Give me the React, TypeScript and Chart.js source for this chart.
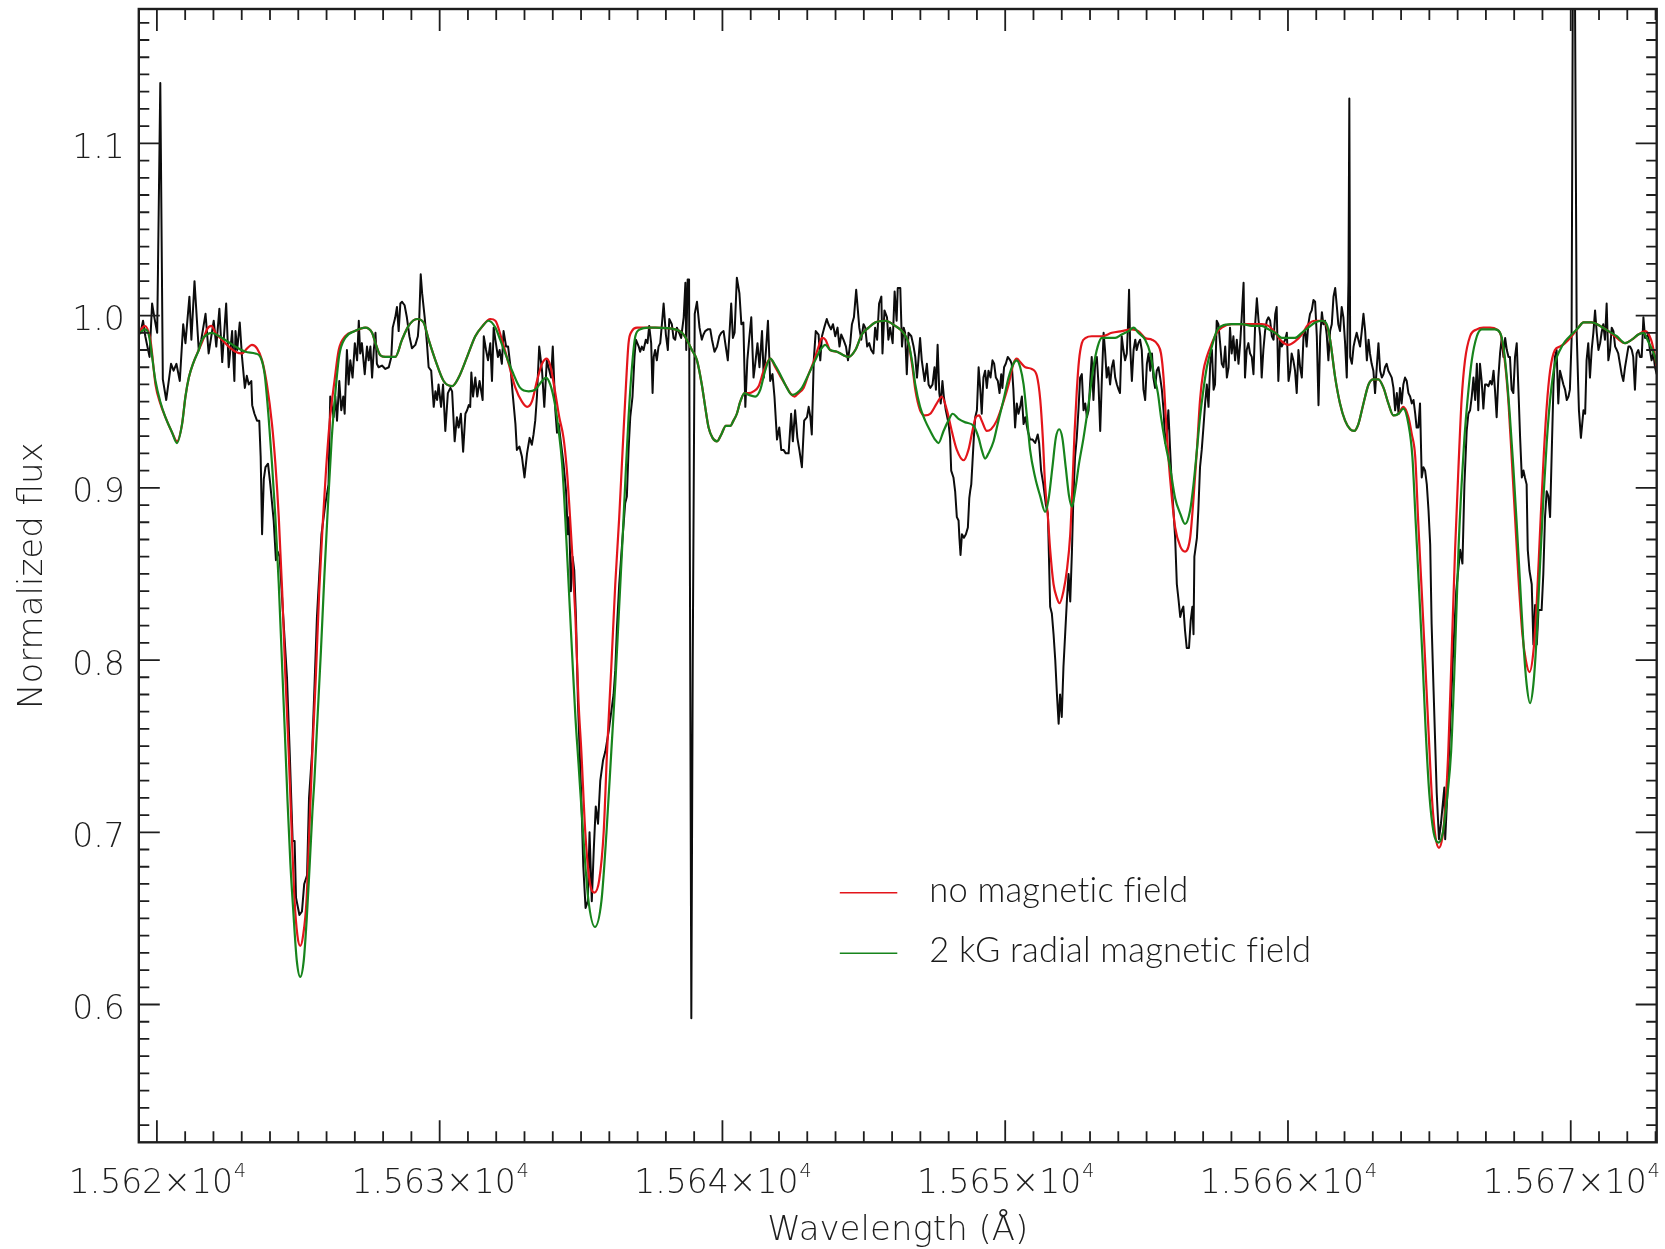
import React, { useEffect, useRef } from "react";
import { Chart, registerables } from "chart.js";

Chart.register(...registerables);

// Axis ranges (wavelength in Å, normalized flux)
const X_MIN = 15619.36;
const X_MAX = 15673.04;
const Y_MIN = 0.52;
const Y_MAX = 1.178;

// Major tick positions and their labels
const xMajorTicks = [15620, 15630, 15640, 15650, 15660, 15670];
const xTickMantissas = ["1.562", "1.563", "1.564", "1.565", "1.566", "1.567"];
const xTickExponent = "4";
const yMajorTicks = [0.6, 0.7, 0.8, 0.9, 1.0, 1.1];
const yTickLabels = ["0.6", "0.7", "0.8", "0.9", "1.0", "1.1"];

const legendLabels = ["no magnetic field", "2 kG radial magnetic field"];

// Observed spectrum [wavelength, flux]
const observed: [number, number][] = [
  [15619.42, 0.990], [15619.51, 0.997], [15619.59, 0.988], [15619.74, 0.976], [15619.83, 1.007],
  [15619.91, 0.999], [15620.01, 0.990], [15620.12, 1.135], [15620.21, 0.963], [15620.33, 0.951],
  [15620.50, 0.972], [15620.59, 0.968], [15620.69, 0.972], [15620.81, 0.962], [15620.93, 0.995],
  [15621.01, 0.984], [15621.15, 1.011], [15621.22, 0.986], [15621.33, 1.020], [15621.48, 0.980],
  [15621.57, 0.986], [15621.72, 1.001], [15621.83, 0.978], [15622.01, 0.997], [15622.10, 0.982],
  [15622.21, 1.004], [15622.31, 0.973], [15622.45, 1.007], [15622.54, 0.970], [15622.66, 0.991],
  [15622.74, 0.962], [15622.78, 0.991], [15622.84, 0.980], [15622.93, 0.996], [15623.01, 0.976],
  [15623.11, 0.958], [15623.18, 0.965], [15623.25, 0.960], [15623.34, 0.962], [15623.37, 0.948],
  [15623.45, 0.943], [15623.54, 0.939], [15623.62, 0.939], [15623.67, 0.918], [15623.72, 0.873],
  [15623.78, 0.905], [15623.84, 0.912], [15623.93, 0.914], [15624.01, 0.902], [15624.13, 0.881],
  [15624.21, 0.858], [15624.27, 0.863], [15624.34, 0.860], [15624.45, 0.830], [15624.60, 0.790],
  [15624.70, 0.745], [15624.80, 0.695], [15624.87, 0.695], [15624.92, 0.662], [15625.04, 0.652],
  [15625.13, 0.654], [15625.21, 0.670], [15625.31, 0.675], [15625.38, 0.720], [15625.49, 0.747],
  [15625.58, 0.788], [15625.66, 0.825], [15625.82, 0.873], [15625.96, 0.891], [15626.07, 0.902],
  [15626.13, 0.953], [15626.25, 0.941], [15626.31, 0.953], [15626.37, 0.939], [15626.45, 0.962],
  [15626.52, 0.945], [15626.59, 0.953], [15626.64, 0.943], [15626.72, 0.980], [15626.78, 0.960],
  [15626.84, 0.974], [15626.92, 0.964], [15627.00, 0.984], [15627.08, 0.974], [15627.14, 0.997],
  [15627.19, 0.978], [15627.25, 0.984], [15627.35, 0.966], [15627.43, 0.982], [15627.49, 0.974],
  [15627.55, 0.982], [15627.61, 0.964], [15627.67, 0.980], [15627.73, 0.990], [15627.78, 0.972],
  [15627.84, 0.970], [15627.96, 0.971], [15628.08, 0.969], [15628.20, 0.970], [15628.29, 0.976],
  [15628.34, 0.993], [15628.43, 0.999], [15628.49, 1.005], [15628.55, 0.991], [15628.61, 1.007],
  [15628.67, 1.008], [15628.76, 1.006], [15628.84, 0.999], [15628.93, 0.988], [15629.02, 0.981],
  [15629.14, 0.983], [15629.23, 0.988], [15629.28, 0.999], [15629.33, 1.024], [15629.38, 1.013],
  [15629.47, 0.999], [15629.55, 0.984], [15629.61, 0.970], [15629.70, 0.968], [15629.79, 0.947],
  [15629.85, 0.956], [15629.91, 0.951], [15629.96, 0.960], [15630.05, 0.947], [15630.12, 0.960],
  [15630.20, 0.933], [15630.29, 0.955], [15630.38, 0.958], [15630.44, 0.956], [15630.53, 0.927],
  [15630.61, 0.941], [15630.67, 0.935], [15630.75, 0.943], [15630.83, 0.921], [15630.91, 0.943],
  [15630.97, 0.945], [15631.03, 0.948], [15631.08, 0.947], [15631.12, 0.967], [15631.18, 0.953],
  [15631.26, 0.964], [15631.33, 0.953], [15631.41, 0.962], [15631.52, 0.951], [15631.56, 0.988],
  [15631.64, 0.980], [15631.71, 0.974], [15631.79, 0.984], [15631.85, 0.962], [15631.91, 0.993],
  [15631.97, 0.986], [15632.06, 0.976], [15632.12, 0.980], [15632.20, 0.972], [15632.26, 0.991],
  [15632.35, 0.982], [15632.42, 0.982], [15632.50, 0.971], [15632.58, 0.955], [15632.68, 0.937],
  [15632.73, 0.922], [15632.82, 0.924], [15632.91, 0.918], [15633.00, 0.906], [15633.09, 0.920],
  [15633.18, 0.929], [15633.26, 0.925], [15633.32, 0.931], [15633.38, 0.939], [15633.44, 0.953],
  [15633.52, 0.982], [15633.62, 0.968], [15633.70, 0.947], [15633.79, 0.974], [15633.85, 0.970],
  [15633.94, 0.964], [15634.00, 0.982], [15634.09, 0.945], [15634.15, 0.932], [15634.21, 0.937],
  [15634.29, 0.926], [15634.38, 0.914], [15634.47, 0.898], [15634.53, 0.873], [15634.58, 0.883],
  [15634.64, 0.840], [15634.70, 0.860], [15634.76, 0.852], [15634.82, 0.825], [15634.89, 0.776],
  [15634.95, 0.747], [15635.00, 0.725], [15635.08, 0.680], [15635.16, 0.656], [15635.24, 0.660],
  [15635.30, 0.700], [15635.38, 0.660], [15635.45, 0.690], [15635.52, 0.715], [15635.60, 0.705],
  [15635.68, 0.730], [15635.78, 0.742], [15635.86, 0.747], [15635.98, 0.759], [15636.15, 0.780],
  [15636.21, 0.794], [15636.27, 0.819], [15636.35, 0.844], [15636.45, 0.867], [15636.56, 0.891],
  [15636.62, 0.895], [15636.68, 0.922], [15636.74, 0.941], [15636.82, 0.953], [15636.89, 0.976],
  [15636.94, 0.986], [15637.04, 0.982], [15637.09, 0.979], [15637.15, 0.982], [15637.21, 0.980],
  [15637.29, 0.986], [15637.35, 0.984], [15637.41, 0.994], [15637.48, 0.984], [15637.53, 0.955],
  [15637.57, 0.976], [15637.62, 0.980], [15637.68, 0.974], [15637.74, 0.982], [15637.80, 0.984],
  [15637.86, 0.995], [15637.92, 1.007], [15638.00, 0.989], [15638.07, 0.980], [15638.12, 0.998],
  [15638.21, 0.995], [15638.27, 0.987], [15638.33, 0.986], [15638.39, 0.993], [15638.47, 0.990],
  [15638.54, 0.987], [15638.63, 0.999], [15638.69, 1.019], [15638.72, 0.980], [15638.77, 1.021],
  [15638.82, 1.021], [15638.86, 0.800], [15638.90, 0.592], [15638.95, 0.800], [15639.02, 1.001],
  [15639.10, 1.008], [15639.19, 0.993], [15639.27, 0.986], [15639.33, 0.989], [15639.39, 0.991],
  [15639.48, 0.992], [15639.57, 0.992], [15639.63, 0.986], [15639.72, 0.979], [15639.81, 0.982],
  [15639.89, 0.988], [15639.96, 0.990], [15640.04, 0.991], [15640.10, 0.984], [15640.19, 0.974],
  [15640.24, 0.987], [15640.31, 1.007], [15640.37, 0.987], [15640.43, 0.990], [15640.51, 1.022],
  [15640.60, 1.013], [15640.67, 0.995], [15640.74, 0.996], [15640.81, 0.947], [15640.88, 0.974],
  [15640.95, 0.987], [15641.02, 0.999], [15641.10, 0.964], [15641.16, 0.972], [15641.24, 0.984],
  [15641.31, 0.970], [15641.40, 0.991], [15641.46, 0.964], [15641.54, 0.980], [15641.61, 0.997],
  [15641.69, 0.962], [15641.77, 0.966], [15641.84, 0.953], [15641.93, 0.928], [15642.01, 0.935],
  [15642.08, 0.922], [15642.16, 0.922], [15642.24, 0.920], [15642.34, 0.920], [15642.43, 0.943],
  [15642.49, 0.927], [15642.57, 0.945], [15642.65, 0.929], [15642.72, 0.922], [15642.81, 0.912],
  [15642.89, 0.939], [15642.99, 0.941], [15643.05, 0.947], [15643.11, 0.941], [15643.16, 0.931],
  [15643.23, 0.974], [15643.30, 0.991], [15643.40, 0.989], [15643.46, 0.974], [15643.52, 0.988],
  [15643.60, 0.993], [15643.69, 0.998], [15643.75, 0.995], [15643.84, 0.992], [15643.91, 0.995],
  [15643.99, 0.988], [15644.07, 0.993], [15644.14, 0.982], [15644.20, 0.989], [15644.28, 0.986],
  [15644.37, 0.982], [15644.44, 0.974], [15644.52, 0.984], [15644.58, 0.995], [15644.65, 0.999],
  [15644.73, 1.015], [15644.79, 1.003], [15644.84, 0.993], [15644.91, 0.986], [15644.99, 0.995],
  [15645.05, 0.993], [15645.12, 0.982], [15645.19, 0.984], [15645.26, 0.980], [15645.34, 0.978],
  [15645.40, 0.993], [15645.47, 0.986], [15645.54, 1.007], [15645.62, 1.011], [15645.66, 0.978],
  [15645.73, 1.003], [15645.82, 0.999], [15645.87, 0.986], [15645.93, 0.993], [15646.02, 0.984],
  [15646.09, 1.014], [15646.16, 0.997], [15646.20, 1.016], [15646.29, 1.016], [15646.35, 0.982],
  [15646.41, 0.993], [15646.46, 0.990], [15646.52, 0.966], [15646.58, 0.990], [15646.68, 0.988],
  [15646.76, 0.982], [15646.82, 0.976], [15646.88, 0.964], [15646.93, 0.974], [15646.99, 0.987],
  [15647.05, 0.974], [15647.15, 0.962], [15647.23, 0.972], [15647.29, 0.960], [15647.35, 0.958],
  [15647.43, 0.960], [15647.50, 0.970], [15647.55, 0.957], [15647.61, 0.983], [15647.67, 0.955],
  [15647.72, 0.949], [15647.78, 0.962], [15647.83, 0.953], [15647.90, 0.945], [15648.00, 0.937],
  [15648.05, 0.929], [15648.09, 0.910], [15648.17, 0.906], [15648.23, 0.898], [15648.29, 0.883],
  [15648.35, 0.881], [15648.38, 0.871], [15648.42, 0.861], [15648.47, 0.873], [15648.54, 0.871],
  [15648.61, 0.873], [15648.68, 0.877], [15648.73, 0.894], [15648.76, 0.898], [15648.80, 0.902],
  [15648.84, 0.914], [15648.89, 0.929], [15648.94, 0.941], [15649.00, 0.945], [15649.06, 0.970],
  [15649.12, 0.957], [15649.17, 0.943], [15649.23, 0.964], [15649.29, 0.968], [15649.35, 0.958],
  [15649.41, 0.968], [15649.48, 0.964], [15649.55, 0.974], [15649.61, 0.972], [15649.67, 0.964],
  [15649.74, 0.962], [15649.80, 0.955], [15649.86, 0.966], [15649.90, 0.958], [15649.96, 0.970],
  [15650.02, 0.972], [15650.09, 0.976], [15650.18, 0.974], [15650.23, 0.972], [15650.29, 0.957],
  [15650.35, 0.935], [15650.41, 0.949], [15650.47, 0.943], [15650.53, 0.947], [15650.59, 0.953],
  [15650.65, 0.937], [15650.71, 0.941], [15650.80, 0.933], [15650.88, 0.928], [15650.97, 0.928],
  [15651.06, 0.926], [15651.15, 0.931], [15651.20, 0.926], [15651.27, 0.910], [15651.35, 0.902],
  [15651.44, 0.890], [15651.51, 0.885], [15651.59, 0.831], [15651.65, 0.827], [15651.71, 0.815],
  [15651.77, 0.800], [15651.83, 0.780], [15651.89, 0.763], [15651.94, 0.780], [15652.00, 0.767],
  [15652.06, 0.796], [15652.12, 0.815], [15652.18, 0.834], [15652.24, 0.850], [15652.30, 0.834],
  [15652.36, 0.863], [15652.41, 0.894], [15652.47, 0.918], [15652.53, 0.929], [15652.59, 0.945],
  [15652.65, 0.964], [15652.71, 0.966], [15652.77, 0.945], [15652.83, 0.949], [15652.89, 0.941],
  [15652.95, 0.945], [15653.00, 0.960], [15653.06, 0.976], [15653.12, 0.951], [15653.18, 0.972],
  [15653.24, 0.976], [15653.30, 0.960], [15653.36, 0.933], [15653.42, 0.964], [15653.48, 0.990],
  [15653.53, 0.980], [15653.59, 0.964], [15653.65, 0.970], [15653.71, 0.960], [15653.77, 0.970],
  [15653.83, 0.974], [15653.89, 0.964], [15653.95, 0.960], [15654.01, 0.957], [15654.06, 0.955],
  [15654.12, 0.988], [15654.18, 0.980], [15654.24, 0.974], [15654.30, 0.978], [15654.34, 0.993],
  [15654.38, 1.015], [15654.42, 0.982], [15654.48, 0.962], [15654.54, 0.980], [15654.60, 0.986],
  [15654.65, 0.980], [15654.71, 0.984], [15654.77, 0.986], [15654.83, 0.980], [15654.89, 0.957],
  [15654.95, 0.951], [15655.01, 0.972], [15655.07, 0.978], [15655.13, 0.968], [15655.19, 0.978],
  [15655.24, 0.964], [15655.30, 0.958], [15655.36, 0.968], [15655.42, 0.970], [15655.48, 0.964],
  [15655.54, 0.957], [15655.60, 0.945], [15655.66, 0.926], [15655.71, 0.930], [15655.77, 0.945],
  [15655.83, 0.923], [15655.89, 0.902], [15655.95, 0.887], [15656.01, 0.871], [15656.07, 0.844],
  [15656.13, 0.835], [15656.19, 0.825], [15656.25, 0.829], [15656.30, 0.831], [15656.36, 0.817],
  [15656.42, 0.807], [15656.50, 0.807], [15656.56, 0.823], [15656.62, 0.831], [15656.66, 0.815],
  [15656.69, 0.860], [15656.78, 0.871], [15656.83, 0.887], [15656.89, 0.912], [15656.95, 0.922],
  [15657.01, 0.935], [15657.07, 0.949], [15657.13, 0.960], [15657.19, 0.947], [15657.25, 0.972],
  [15657.31, 0.980], [15657.37, 0.957], [15657.42, 0.960], [15657.48, 0.997], [15657.54, 0.995],
  [15657.60, 0.984], [15657.66, 0.972], [15657.72, 0.970], [15657.78, 0.982], [15657.84, 0.964],
  [15657.90, 0.970], [15657.95, 0.993], [15658.01, 0.978], [15658.07, 0.988], [15658.13, 0.974],
  [15658.19, 0.986], [15658.25, 0.972], [15658.31, 0.984], [15658.37, 1.001], [15658.43, 1.019],
  [15658.48, 0.964], [15658.54, 0.980], [15658.60, 0.984], [15658.66, 0.978], [15658.72, 0.976],
  [15658.78, 0.966], [15658.84, 0.995], [15658.90, 1.010], [15658.96, 0.997], [15659.02, 0.988],
  [15659.07, 0.964], [15659.13, 0.980], [15659.19, 0.991], [15659.25, 0.997], [15659.31, 0.999],
  [15659.37, 0.997], [15659.43, 0.988], [15659.49, 0.986], [15659.55, 1.001], [15659.60, 1.005],
  [15659.66, 0.962], [15659.72, 0.986], [15659.78, 0.982], [15659.84, 0.984], [15659.90, 0.986],
  [15659.96, 0.990], [15660.02, 0.962], [15660.08, 0.968], [15660.13, 0.978], [15660.19, 0.974],
  [15660.25, 0.968], [15660.31, 0.955], [15660.37, 0.980], [15660.43, 0.970], [15660.49, 0.964],
  [15660.55, 0.988], [15660.61, 0.991], [15660.66, 0.982], [15660.72, 0.995], [15660.78, 1.001],
  [15660.84, 1.003], [15660.90, 1.009], [15660.96, 1.008], [15661.02, 0.988], [15661.08, 0.948],
  [15661.14, 0.988], [15661.20, 1.002], [15661.25, 0.995], [15661.31, 0.997], [15661.37, 0.989],
  [15661.43, 0.974], [15661.49, 0.991], [15661.55, 0.995], [15661.61, 1.011], [15661.67, 1.016],
  [15661.73, 1.005], [15661.78, 0.995], [15661.84, 0.991], [15661.90, 1.005], [15661.96, 0.999],
  [15662.02, 0.984], [15662.08, 0.964], [15662.14, 1.020], [15662.17, 1.126], [15662.20, 0.976],
  [15662.26, 0.972], [15662.32, 0.982], [15662.37, 0.986], [15662.43, 0.990], [15662.49, 0.986],
  [15662.55, 0.982], [15662.61, 0.991], [15662.67, 1.001], [15662.73, 0.991], [15662.79, 0.974],
  [15662.85, 0.986], [15662.90, 0.978], [15662.96, 0.972], [15663.02, 0.968], [15663.08, 0.955],
  [15663.14, 0.970], [15663.20, 0.984], [15663.26, 0.968], [15663.32, 0.964], [15663.38, 0.966],
  [15663.43, 0.970], [15663.49, 0.972], [15663.55, 0.968], [15663.61, 0.966], [15663.67, 0.964],
  [15663.73, 0.958], [15663.79, 0.945], [15663.85, 0.955], [15663.91, 0.943], [15663.96, 0.958],
  [15664.02, 0.949], [15664.08, 0.960], [15664.14, 0.964], [15664.20, 0.962], [15664.26, 0.955],
  [15664.32, 0.953], [15664.38, 0.949], [15664.44, 0.951], [15664.50, 0.943], [15664.55, 0.935],
  [15664.61, 0.935], [15664.67, 0.949], [15664.73, 0.906], [15664.79, 0.912], [15664.85, 0.910],
  [15664.91, 0.902], [15664.97, 0.887], [15665.03, 0.867], [15665.08, 0.821], [15665.15, 0.782],
  [15665.26, 0.723], [15665.34, 0.696], [15665.41, 0.705], [15665.53, 0.726], [15665.56, 0.696],
  [15665.63, 0.720], [15665.71, 0.751], [15665.83, 0.800], [15665.95, 0.840], [15666.09, 0.864],
  [15666.17, 0.856], [15666.24, 0.902], [15666.32, 0.933], [15666.38, 0.943], [15666.44, 0.945],
  [15666.50, 0.953], [15666.56, 0.964], [15666.62, 0.951], [15666.68, 0.972], [15666.73, 0.945],
  [15666.79, 0.972], [15666.85, 0.962], [15666.91, 0.946], [15666.97, 0.960], [15667.03, 0.960],
  [15667.09, 0.959], [15667.15, 0.962], [15667.21, 0.960], [15667.27, 0.968], [15667.32, 0.957],
  [15667.38, 0.941], [15667.44, 0.964], [15667.50, 0.978], [15667.56, 0.987], [15667.62, 0.976],
  [15667.68, 0.987], [15667.74, 0.980], [15667.80, 0.976], [15667.85, 0.976], [15667.91, 0.957],
  [15667.97, 0.955], [15668.03, 0.976], [15668.09, 0.984], [15668.15, 0.957], [15668.21, 0.929],
  [15668.27, 0.906], [15668.33, 0.910], [15668.38, 0.906], [15668.44, 0.902], [15668.48, 0.864],
  [15668.54, 0.852], [15668.62, 0.844], [15668.68, 0.809], [15668.74, 0.832], [15668.80, 0.809],
  [15668.86, 0.829], [15668.91, 0.829], [15668.97, 0.829], [15669.03, 0.850], [15669.09, 0.883],
  [15669.15, 0.898], [15669.21, 0.895], [15669.27, 0.883], [15669.33, 0.922], [15669.39, 0.960],
  [15669.44, 0.976], [15669.50, 0.980], [15669.56, 0.949], [15669.62, 0.968], [15669.68, 0.964],
  [15669.74, 0.960], [15669.80, 0.957], [15669.86, 0.951], [15669.92, 0.953], [15669.97, 0.957],
  [15670.03, 0.986], [15670.08, 1.220], [15670.14, 1.220], [15670.21, 0.990], [15670.29, 0.945],
  [15670.36, 0.929], [15670.45, 0.945], [15670.51, 0.943], [15670.56, 0.974], [15670.62, 0.984],
  [15670.68, 0.964], [15670.74, 0.980], [15670.80, 0.990], [15670.86, 1.003], [15670.92, 0.990],
  [15670.98, 0.980], [15671.04, 0.984], [15671.09, 0.990], [15671.15, 0.995], [15671.21, 0.986],
  [15671.27, 1.007], [15671.33, 0.974], [15671.39, 0.980], [15671.45, 0.993], [15671.51, 0.991],
  [15671.57, 0.982], [15671.63, 0.980], [15671.68, 0.978], [15671.74, 0.972], [15671.80, 0.966],
  [15671.86, 0.962], [15671.92, 0.970], [15671.98, 0.976], [15672.04, 0.982], [15672.10, 0.982],
  [15672.16, 0.980], [15672.21, 0.976], [15672.27, 0.957], [15672.33, 0.978], [15672.39, 0.980],
  [15672.45, 0.976], [15672.51, 0.976], [15672.57, 0.999], [15672.63, 0.987], [15672.74, 0.989],
  [15672.80, 0.980], [15672.86, 0.974], [15672.92, 0.978], [15672.98, 0.970], [15673.04, 0.966],
];

// Synthetic spectrum without magnetic field [wavelength, flux]
const noFieldModel: [number, number][] = [
  [15619.36, 0.990], [15619.57, 0.994], [15619.77, 0.986], [15619.95, 0.960], [15620.12, 0.949],
  [15620.30, 0.941], [15620.54, 0.932], [15620.71, 0.927], [15620.89, 0.937], [15621.01, 0.953],
  [15621.13, 0.964], [15621.30, 0.973], [15621.48, 0.980], [15621.66, 0.987], [15621.77, 0.992],
  [15621.93, 0.994], [15622.07, 0.990], [15622.30, 0.986], [15622.54, 0.982], [15622.78, 0.979],
  [15623.01, 0.978], [15623.19, 0.981], [15623.36, 0.983], [15623.54, 0.981], [15623.72, 0.974],
  [15623.89, 0.960], [15624.07, 0.937], [15624.19, 0.914], [15624.31, 0.883], [15624.43, 0.840],
  [15624.54, 0.792], [15624.66, 0.747], [15624.74, 0.712], [15624.87, 0.660], [15624.97, 0.640],
  [15625.07, 0.634], [15625.17, 0.640], [15625.29, 0.660], [15625.40, 0.705], [15625.50, 0.747],
  [15625.62, 0.790], [15625.74, 0.840], [15625.86, 0.878], [15625.98, 0.910], [15626.12, 0.940],
  [15626.28, 0.962], [15626.43, 0.980], [15626.66, 0.988], [15627.00, 0.991], [15627.37, 0.993],
  [15627.61, 0.990], [15627.73, 0.984], [15627.90, 0.977], [15628.08, 0.976], [15628.43, 0.976],
  [15628.67, 0.986], [15628.90, 0.994], [15629.20, 0.998], [15629.43, 0.996], [15629.61, 0.986],
  [15629.85, 0.974], [15630.14, 0.962], [15630.44, 0.959], [15630.67, 0.964], [15630.97, 0.976],
  [15631.26, 0.988], [15631.52, 0.994], [15631.79, 0.998], [15631.97, 0.997], [15632.20, 0.986],
  [15632.44, 0.972], [15632.68, 0.958], [15632.91, 0.950], [15633.09, 0.947], [15633.26, 0.950],
  [15633.44, 0.962], [15633.62, 0.972], [15633.79, 0.975], [15633.91, 0.971], [15634.07, 0.957],
  [15634.23, 0.941], [15634.38, 0.929], [15634.50, 0.910], [15634.58, 0.891], [15634.68, 0.864],
  [15634.80, 0.825], [15634.91, 0.776], [15635.01, 0.747], [15635.15, 0.700], [15635.30, 0.672],
  [15635.47, 0.665], [15635.64, 0.672], [15635.80, 0.700], [15635.92, 0.747], [15636.07, 0.796],
  [15636.21, 0.844], [15636.35, 0.883], [15636.47, 0.922], [15636.59, 0.960], [15636.68, 0.984],
  [15636.80, 0.991], [15636.98, 0.993], [15637.63, 0.993], [15638.33, 0.992], [15638.57, 0.990],
  [15638.74, 0.986], [15638.92, 0.980], [15639.10, 0.974], [15639.27, 0.960], [15639.39, 0.947],
  [15639.51, 0.935], [15639.65, 0.929], [15639.81, 0.927], [15639.96, 0.931], [15640.12, 0.936],
  [15640.28, 0.936], [15640.39, 0.939], [15640.51, 0.943], [15640.63, 0.950], [15640.78, 0.955],
  [15640.92, 0.955], [15641.10, 0.956], [15641.28, 0.959], [15641.46, 0.968], [15641.69, 0.975],
  [15641.87, 0.970], [15642.04, 0.965], [15642.22, 0.960], [15642.40, 0.955], [15642.55, 0.953],
  [15642.69, 0.955], [15642.87, 0.958], [15643.05, 0.966], [15643.22, 0.973], [15643.40, 0.982],
  [15643.52, 0.987], [15643.64, 0.986], [15643.81, 0.980], [15644.05, 0.979], [15644.28, 0.977],
  [15644.46, 0.976], [15644.70, 0.980], [15644.93, 0.989], [15645.17, 0.993], [15645.40, 0.996],
  [15645.76, 0.997], [15646.11, 0.994], [15646.40, 0.990], [15646.58, 0.984], [15646.72, 0.970],
  [15646.82, 0.957], [15646.99, 0.945], [15647.17, 0.942], [15647.35, 0.943], [15647.58, 0.949],
  [15647.76, 0.953], [15647.94, 0.945], [15648.11, 0.933], [15648.29, 0.922], [15648.53, 0.916],
  [15648.70, 0.922], [15648.84, 0.933], [15648.96, 0.941], [15649.08, 0.942], [15649.17, 0.939],
  [15649.35, 0.933], [15649.50, 0.934], [15649.70, 0.939], [15649.88, 0.947], [15650.12, 0.960],
  [15650.29, 0.972], [15650.41, 0.975], [15650.53, 0.973], [15650.71, 0.970], [15650.94, 0.969],
  [15651.12, 0.965], [15651.24, 0.951], [15651.33, 0.929], [15651.41, 0.902], [15651.51, 0.883],
  [15651.59, 0.864], [15651.71, 0.844], [15651.83, 0.836], [15651.92, 0.833], [15652.06, 0.840],
  [15652.18, 0.852], [15652.30, 0.873], [15652.38, 0.902], [15652.45, 0.931], [15652.53, 0.956],
  [15652.61, 0.974], [15652.71, 0.984], [15652.85, 0.987], [15653.06, 0.988], [15653.42, 0.988],
  [15653.77, 0.990], [15654.12, 0.991], [15654.48, 0.992], [15654.71, 0.991], [15654.95, 0.987],
  [15655.19, 0.986], [15655.40, 0.983], [15655.51, 0.978], [15655.60, 0.964], [15655.68, 0.941],
  [15655.77, 0.918], [15655.89, 0.895], [15656.01, 0.877], [15656.19, 0.866], [15656.36, 0.863],
  [15656.54, 0.871], [15656.66, 0.894], [15656.78, 0.922], [15656.89, 0.951], [15657.01, 0.968],
  [15657.13, 0.976], [15657.31, 0.984], [15657.48, 0.990], [15657.66, 0.993], [15658.01, 0.995],
  [15658.37, 0.995], [15658.72, 0.995], [15659.07, 0.995], [15659.31, 0.994], [15659.55, 0.990],
  [15659.78, 0.985], [15660.02, 0.983], [15660.25, 0.985], [15660.49, 0.989], [15660.72, 0.995],
  [15660.96, 0.997], [15661.20, 0.997], [15661.37, 0.994], [15661.49, 0.986], [15661.67, 0.964],
  [15661.84, 0.949], [15662.02, 0.939], [15662.20, 0.934], [15662.34, 0.933], [15662.49, 0.937],
  [15662.67, 0.949], [15662.85, 0.960], [15663.02, 0.963], [15663.20, 0.963], [15663.38, 0.958],
  [15663.55, 0.949], [15663.73, 0.942], [15663.91, 0.943], [15664.08, 0.947], [15664.26, 0.941],
  [15664.38, 0.931], [15664.50, 0.918], [15664.61, 0.879], [15664.73, 0.840], [15664.85, 0.800],
  [15664.97, 0.759], [15665.10, 0.718], [15665.22, 0.697], [15665.34, 0.691], [15665.46, 0.697],
  [15665.57, 0.716], [15665.67, 0.747], [15665.79, 0.805], [15665.91, 0.864], [15666.03, 0.912],
  [15666.14, 0.951], [15666.26, 0.974], [15666.44, 0.988], [15666.68, 0.992], [15666.91, 0.993],
  [15667.15, 0.993], [15667.38, 0.992], [15667.54, 0.988], [15667.68, 0.972], [15667.80, 0.949],
  [15667.91, 0.918], [15668.03, 0.883], [15668.15, 0.848], [15668.29, 0.815], [15668.41, 0.800],
  [15668.54, 0.793], [15668.68, 0.805], [15668.80, 0.834], [15668.91, 0.873], [15669.03, 0.914],
  [15669.15, 0.947], [15669.27, 0.968], [15669.44, 0.980], [15669.62, 0.982], [15669.80, 0.984],
  [15670.03, 0.988], [15670.27, 0.993], [15670.45, 0.996], [15670.74, 0.996], [15671.04, 0.994],
  [15671.33, 0.991], [15671.63, 0.987], [15671.92, 0.984], [15672.16, 0.986], [15672.39, 0.989],
  [15672.63, 0.991], [15672.84, 0.986], [15672.98, 0.976], [15673.04, 0.970],
];

// Synthetic spectrum with a 2 kG radial field [wavelength, flux]
const radialFieldModel: [number, number][] = [
  [15619.36, 0.989], [15619.57, 0.992], [15619.71, 0.989], [15619.95, 0.962], [15620.12, 0.950],
  [15620.30, 0.941], [15620.54, 0.932], [15620.71, 0.926], [15620.89, 0.937], [15621.01, 0.953],
  [15621.13, 0.964], [15621.30, 0.973], [15621.48, 0.980], [15621.60, 0.986], [15621.77, 0.989],
  [15621.93, 0.990], [15622.30, 0.987], [15622.78, 0.982], [15623.13, 0.979], [15623.48, 0.978],
  [15623.66, 0.976], [15623.81, 0.966], [15623.95, 0.941], [15624.07, 0.914], [15624.19, 0.883],
  [15624.31, 0.844], [15624.43, 0.796], [15624.52, 0.760], [15624.62, 0.718], [15624.72, 0.682],
  [15624.82, 0.655], [15624.95, 0.625], [15625.07, 0.616], [15625.19, 0.625], [15625.30, 0.650],
  [15625.40, 0.680], [15625.50, 0.712], [15625.57, 0.730], [15625.66, 0.760], [15625.80, 0.805],
  [15625.92, 0.848], [15626.05, 0.890], [15626.18, 0.928], [15626.31, 0.955], [15626.45, 0.977],
  [15626.66, 0.987], [15627.00, 0.991], [15627.37, 0.993], [15627.61, 0.990], [15627.73, 0.984],
  [15627.90, 0.977], [15628.08, 0.976], [15628.43, 0.976], [15628.67, 0.986], [15628.90, 0.994],
  [15629.20, 0.998], [15629.43, 0.996], [15629.61, 0.986], [15629.85, 0.974], [15630.14, 0.962],
  [15630.44, 0.959], [15630.67, 0.964], [15630.97, 0.976], [15631.26, 0.988], [15631.52, 0.994],
  [15631.73, 0.997], [15631.97, 0.993], [15632.14, 0.986], [15632.32, 0.978], [15632.56, 0.968],
  [15632.85, 0.958], [15633.15, 0.956], [15633.38, 0.957], [15633.62, 0.962], [15633.76, 0.964],
  [15633.91, 0.960], [15634.07, 0.949], [15634.21, 0.933], [15634.33, 0.914], [15634.44, 0.883],
  [15634.56, 0.844], [15634.68, 0.805], [15634.80, 0.767], [15634.91, 0.740], [15635.07, 0.700],
  [15635.25, 0.662], [15635.49, 0.645], [15635.72, 0.660], [15635.90, 0.700], [15636.07, 0.747],
  [15636.21, 0.786], [15636.33, 0.825], [15636.45, 0.864], [15636.56, 0.902], [15636.68, 0.941],
  [15636.80, 0.970], [15636.92, 0.988], [15637.09, 0.992], [15637.39, 0.993], [15637.63, 0.993],
  [15638.33, 0.992], [15638.57, 0.990], [15638.74, 0.986], [15638.92, 0.980], [15639.10, 0.974],
  [15639.27, 0.960], [15639.39, 0.947], [15639.51, 0.935], [15639.65, 0.929], [15639.81, 0.927],
  [15639.96, 0.931], [15640.12, 0.936], [15640.28, 0.936], [15640.39, 0.939], [15640.51, 0.943],
  [15640.63, 0.950], [15640.78, 0.955], [15640.92, 0.954], [15641.16, 0.953], [15641.34, 0.957],
  [15641.51, 0.968], [15641.69, 0.975], [15641.87, 0.971], [15642.04, 0.966], [15642.28, 0.958],
  [15642.46, 0.954], [15642.63, 0.955], [15642.81, 0.958], [15643.05, 0.966], [15643.28, 0.974],
  [15643.46, 0.980], [15643.64, 0.983], [15643.81, 0.980], [15644.05, 0.979], [15644.28, 0.977],
  [15644.46, 0.976], [15644.70, 0.980], [15644.93, 0.989], [15645.17, 0.993], [15645.40, 0.996],
  [15645.76, 0.997], [15646.11, 0.994], [15646.40, 0.990], [15646.58, 0.984], [15646.72, 0.972],
  [15646.82, 0.960], [15646.99, 0.947], [15647.17, 0.939], [15647.35, 0.933], [15647.52, 0.928],
  [15647.64, 0.926], [15647.82, 0.933], [15647.99, 0.939], [15648.14, 0.943], [15648.35, 0.940],
  [15648.59, 0.938], [15648.88, 0.936], [15649.06, 0.929], [15649.17, 0.922], [15649.29, 0.917],
  [15649.41, 0.920], [15649.59, 0.927], [15649.76, 0.939], [15649.94, 0.951], [15650.12, 0.964],
  [15650.29, 0.972], [15650.41, 0.974], [15650.53, 0.970], [15650.65, 0.960], [15650.77, 0.941],
  [15650.88, 0.922], [15651.06, 0.906], [15651.24, 0.895], [15651.41, 0.886], [15651.53, 0.893],
  [15651.67, 0.912], [15651.79, 0.929], [15651.91, 0.934], [15652.02, 0.929], [15652.14, 0.912],
  [15652.26, 0.895], [15652.36, 0.889], [15652.47, 0.898], [15652.61, 0.914], [15652.77, 0.929],
  [15652.95, 0.949], [15653.12, 0.970], [15653.27, 0.982], [15653.42, 0.987], [15653.89, 0.987],
  [15654.12, 0.989], [15654.36, 0.991], [15654.54, 0.993], [15654.71, 0.990], [15654.95, 0.986],
  [15655.13, 0.978], [15655.28, 0.964], [15655.40, 0.955], [15655.51, 0.941], [15655.66, 0.926],
  [15655.83, 0.912], [15656.01, 0.894], [15656.19, 0.885], [15656.36, 0.879], [15656.54, 0.887],
  [15656.66, 0.902], [15656.78, 0.922], [15656.89, 0.941], [15657.01, 0.957], [15657.13, 0.970],
  [15657.31, 0.982], [15657.48, 0.991], [15657.66, 0.994], [15658.01, 0.995], [15658.37, 0.995],
  [15658.72, 0.994], [15659.07, 0.994], [15659.31, 0.992], [15659.55, 0.990], [15659.78, 0.987],
  [15660.02, 0.987], [15660.25, 0.987], [15660.49, 0.990], [15660.72, 0.993], [15660.96, 0.996],
  [15661.20, 0.997], [15661.37, 0.995], [15661.49, 0.986], [15661.67, 0.964], [15661.84, 0.949],
  [15662.02, 0.939], [15662.20, 0.934], [15662.34, 0.933], [15662.49, 0.937], [15662.67, 0.949],
  [15662.85, 0.960], [15663.02, 0.963], [15663.20, 0.963], [15663.38, 0.958], [15663.55, 0.949],
  [15663.73, 0.942], [15663.91, 0.943], [15664.08, 0.946], [15664.26, 0.937], [15664.40, 0.918],
  [15664.52, 0.879], [15664.64, 0.840], [15664.76, 0.800], [15664.87, 0.759], [15665.00, 0.722],
  [15665.15, 0.700], [15665.32, 0.694], [15665.48, 0.700], [15665.64, 0.722], [15665.77, 0.747],
  [15665.91, 0.805], [15666.03, 0.864], [15666.14, 0.902], [15666.24, 0.929], [15666.35, 0.951],
  [15666.50, 0.974], [15666.68, 0.988], [15666.85, 0.992], [15667.09, 0.992], [15667.32, 0.992],
  [15667.50, 0.990], [15667.62, 0.982], [15667.74, 0.964], [15667.85, 0.941], [15667.97, 0.912],
  [15668.09, 0.879], [15668.21, 0.844], [15668.33, 0.809], [15668.44, 0.786], [15668.56, 0.775],
  [15668.68, 0.786], [15668.80, 0.815], [15668.91, 0.854], [15669.03, 0.893], [15669.15, 0.926],
  [15669.27, 0.951], [15669.44, 0.972], [15669.62, 0.980], [15669.80, 0.985], [15670.03, 0.989],
  [15670.27, 0.993], [15670.45, 0.996], [15670.74, 0.996], [15671.04, 0.994], [15671.33, 0.991],
  [15671.63, 0.988], [15671.92, 0.984], [15672.16, 0.986], [15672.39, 0.989], [15672.57, 0.990],
  [15672.74, 0.985], [15672.98, 0.976], [15673.04, 0.972],
];

const RED = "#e3151b";
const GREEN = "#17841c";
const INK = "#1e1e1e";
const AXIS_FONT = "'DejaVu Sans'";
const LEGEND_FONT = "Lato";

const toPoints = (rows: [number, number][]) => rows.map(([x, y]) => ({ x, y }));

// Draws the boxed frame with inward major/minor ticks on all four sides,
// the tick labels, axis titles and the in-plot legend.
const framePlugin = {
  id: "spectrumFrame",
  afterDatasetsDraw(chart: any) {
    const { ctx, chartArea: a, scales } = chart;
    const xs = scales.x;
    const ys = scales.y;
    ctx.save();

    // ticks
    ctx.strokeStyle = INK;
    ctx.lineWidth = 1.8;
    ctx.beginPath();
    for (let k = 15620; k <= 15673; k++) {
      const px = xs.getPixelForValue(k);
      const len = k % 10 === 0 ? 22 : 11;
      ctx.moveTo(px, a.bottom);
      ctx.lineTo(px, a.bottom - len);
      ctx.moveTo(px, a.top);
      ctx.lineTo(px, a.top + len);
    }
    for (let k = 53; k <= 117; k++) {
      const py = ys.getPixelForValue(k / 100);
      const len = k % 10 === 0 ? 21 : 10.5;
      ctx.moveTo(a.left, py);
      ctx.lineTo(a.left + len, py);
      ctx.moveTo(a.right, py);
      ctx.lineTo(a.right - len, py);
    }
    ctx.stroke();

    // frame
    ctx.lineWidth = 2.4;
    ctx.strokeRect(a.left, a.top, a.right - a.left, a.bottom - a.top);

    // y tick labels
    ctx.fillStyle = INK;
    ctx.textBaseline = "alphabetic";
    ctx.font = `200 33px ${AXIS_FONT}`;
    ctx.textAlign = "right";
    yMajorTicks.forEach((v, i) => {
      ctx.fillText(yTickLabels[i], a.left - 14, ys.getPixelForValue(v) + 14.5);
    });

    // x tick labels: mantissa × 10 with a raised exponent
    ctx.textAlign = "left";
    xMajorTicks.forEach((v, i) => {
      const base = `${xTickMantissas[i]}×10`;
      ctx.font = `200 33px ${AXIS_FONT}`;
      const w1 = ctx.measureText(base).width;
      ctx.font = `200 19px ${AXIS_FONT}`;
      const w2 = ctx.measureText(xTickExponent).width;
      const x0 = xs.getPixelForValue(v) - (w1 + w2) / 2;
      ctx.font = `200 33px ${AXIS_FONT}`;
      ctx.fillText(base, x0, a.bottom + 51);
      ctx.font = `200 19px ${AXIS_FONT}`;
      ctx.fillText(xTickExponent, x0 + w1 + 1, a.bottom + 34.5);
    });

    // axis titles
    ctx.font = `200 34px ${AXIS_FONT}`;
    ctx.textAlign = "center";
    ctx.fillText("Wavelength (Å)", (a.left + a.right) / 2, a.bottom + 98);
    ctx.save();
    ctx.translate(a.left - 97, (a.top + a.bottom) / 2);
    ctx.rotate(-Math.PI / 2);
    ctx.fillText("Normalized flux", 0, 0);
    ctx.restore();

    // legend (a small letter spacing keeps the glyphs unligated)
    const lx0 = a.left + 701;
    const lx1 = a.left + 758.5;
    const tx = a.left + 790.5;
    const rows = [
      { color: RED, y: a.top + 883.7 },
      { color: GREEN, y: a.top + 944.3 },
    ];
    ctx.lineWidth = 1.6;
    ctx.textAlign = "left";
    ctx.font = `300 34.5px ${LEGEND_FONT}`;
    if ("letterSpacing" in ctx) (ctx as any).letterSpacing = "0.2px";
    rows.forEach((r, i) => {
      ctx.strokeStyle = r.color;
      ctx.beginPath();
      ctx.moveTo(lx0, r.y);
      ctx.lineTo(lx1, r.y);
      ctx.stroke();
      ctx.fillStyle = "#1a1a1a";
      ctx.fillText(legendLabels[i], tx, r.y + 9);
    });

    ctx.restore();
  },
};

export default function App() {
  const canvasRef = useRef<HTMLCanvasElement | null>(null);

  useEffect(() => {
    const canvas = canvasRef.current;
    if (!canvas) return;
    const chart = new Chart(canvas, {
      type: "line",
      data: {
        datasets: [
          {
            label: legendLabels[1],
            data: toPoints(radialFieldModel),
            borderColor: GREEN,
            borderWidth: 2.2,
            pointRadius: 0,
            cubicInterpolationMode: "monotone",
            fill: false,
          },
          {
            label: legendLabels[0],
            data: toPoints(noFieldModel),
            borderColor: RED,
            borderWidth: 2.2,
            pointRadius: 0,
            cubicInterpolationMode: "monotone",
            fill: false,
          },
          {
            label: "observed",
            data: toPoints(observed),
            borderColor: "#0c0c0c",
            borderWidth: 2,
            borderJoinStyle: "round",
            pointRadius: 0,
            tension: 0,
            fill: false,
          },
        ],
      },
      options: {
        animation: false,
        responsive: false,
        maintainAspectRatio: false,
        devicePixelRatio: 1,
        events: [],
        layout: { padding: { left: 0, top: 9, right: 8.3, bottom: 0 } },
        plugins: {
          legend: { display: false },
          tooltip: { enabled: false },
        },
        scales: {
          x: {
            type: "linear",
            min: X_MIN,
            max: X_MAX,
            grid: { display: false },
            border: { display: false },
            ticks: { display: false },
            afterFit: (s: any) => {
              s.height = 106.7;
            },
          },
          y: {
            type: "linear",
            min: Y_MIN,
            max: Y_MAX,
            grid: { display: false },
            border: { display: false },
            ticks: { display: false },
            afterFit: (s: any) => {
              s.width = 138.8;
            },
          },
        },
      } as any,
      plugins: [framePlugin],
    });
    return () => chart.destroy();
  }, []);

  return (
    <div
      style={{
        position: "fixed",
        left: 0,
        top: 0,
        width: 1665,
        height: 1249,
        background: "#ffffff",
      }}
    >
      <canvas ref={canvasRef} width={1665} height={1249} style={{ width: 1665, height: 1249 }} />
    </div>
  );
}
